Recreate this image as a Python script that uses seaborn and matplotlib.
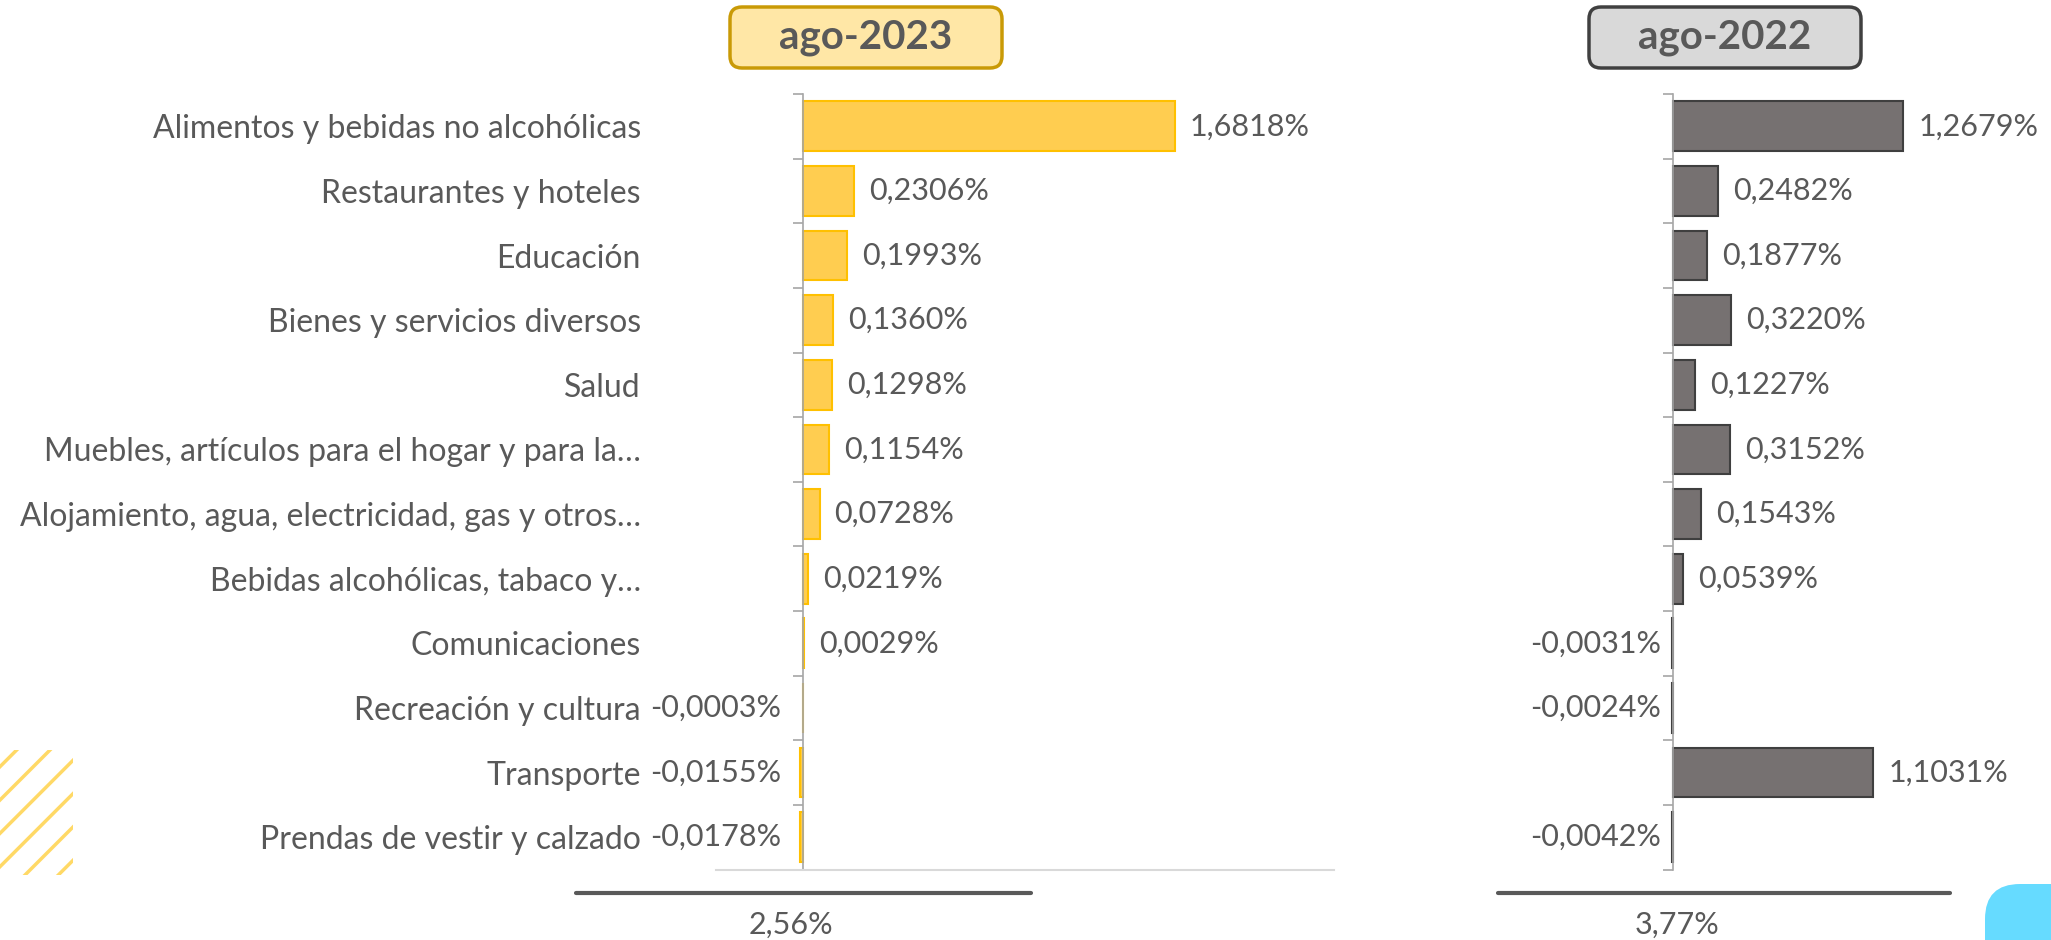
import numpy as np
import matplotlib
matplotlib.use("Agg")
import matplotlib.pyplot as plt
from matplotlib.patches import FancyBboxPatch, Rectangle
from matplotlib.lines import Line2D
import seaborn as sns

sns.set_theme(style="white")
plt.rcParams["font.family"] = ["Lato", "DejaVu Sans"]

# ── data ─────────────────────────────────────────────────────────────────────
categories = [
    "Alimentos y bebidas no alcohólicas",
    "Restaurantes y hoteles",
    "Educación",
    "Bienes y servicios diversos",
    "Salud",
    "Muebles, artículos para el hogar y para la…",
    "Alojamiento, agua, electricidad, gas y otros…",
    "Bebidas alcohólicas, tabaco y…",
    "Comunicaciones",
    "Recreación y cultura",
    "Transporte",
    "Prendas de vestir y calzado",
]
aporte_2023 = [1.6818, 0.2306, 0.1993, 0.1360, 0.1298, 0.1154,
               0.0728, 0.0219, 0.0029, -0.0003, -0.0155, -0.0178]
aporte_2022 = [1.2679, 0.2482, 0.1877, 0.3220, 0.1227, 0.3152,
               0.1543, 0.0539, -0.0031, -0.0024, 1.1031, -0.0042]
periods = ["ago-2023", "ago-2022"]

TXT = "#595959"
FS_CAT = 23
FS_VAL = 22
STYLE = {
    "ago-2023": dict(fill="#FFCD50", edge="#FFC000", box="#FFE7A6", box_edge="#C99A06"),
    "ago-2022": dict(fill="#767171", edge="#3F3F3F", box="#D9D9D9", box_edge="#404040"),
}


def fmt(v, nd=4):
    return f"{v:.{nd}f}".replace(".", ",") + "%"


fig = plt.figure(figsize=(20.51, 9.40), dpi=100)
axL = fig.add_axes([0.349, 0.075, 0.3015, 0.825])
axR = fig.add_axes([0.7334, 0.075, 0.2615, 0.825])
xlims = {"ago-2023": (-0.397, 2.404), "ago-2022": (-0.929, 2.024)}
neg_off = {"ago-2023": -22, "ago-2022": -12}

for ax, period, vals in zip([axL, axR], periods, [aporte_2023, aporte_2022]):
    st = STYLE[period]
    sns.barplot(x=vals, y=categories, ax=ax, orient="h", color=st["fill"],
                edgecolor=st["edge"], linewidth=1.5, width=0.77, saturation=1)
    ax.set_xlim(*xlims[period])
    ax.set_ylim(11.5, -0.5)
    ax.set_xlabel("")
    ax.set_ylabel("")
    ax.set_xticks([])
    ax.spines["left"].set_position(("data", 0))
    ax.spines["left"].set_color("#A6A6A6")
    ax.spines["left"].set_linewidth(1.2)
    for s in ["top", "right"]:
        ax.spines[s].set_visible(False)
    ax.set_yticks(np.arange(-0.5, 12, 1), minor=True)
    ax.tick_params(axis="y", which="minor", left=True, length=7, width=1.2,
                   color="#A6A6A6")
    ax.tick_params(axis="y", which="major", length=0)
    ax.patch.set_alpha(0)

    for i, v in enumerate(vals):
        if v >= 0:
            ax.annotate(fmt(v), (v, i), xytext=(15, 0), textcoords="offset pixels",
                        ha="left", va="center", fontsize=FS_VAL, color=TXT)
        else:
            ax.annotate(fmt(v), (0, i), xytext=(neg_off[period], 0),
                        textcoords="offset pixels", ha="right", va="center",
                        fontsize=FS_VAL, color=TXT)

# category labels only on the left panel
axL.tick_params(axis="y", which="major", pad=117, labelsize=FS_CAT, labelcolor=TXT)
axL.spines["bottom"].set_color("#D9D9D9")
axL.spines["bottom"].set_linewidth(1.5)
axR.set_yticklabels([])
axR.spines["bottom"].set_visible(False)

# ── header boxes ─────────────────────────────────────────────────────────────
for period, x0 in zip(periods, [7.30, 15.89]):
    st = STYLE[period]
    box = FancyBboxPatch((x0, 8.72), 2.72, 0.61,
                         boxstyle="round,pad=0,rounding_size=0.12",
                         transform=fig.dpi_scale_trans, facecolor=st["box"],
                         edgecolor=st["box_edge"], linewidth=2.5)
    fig.patches.append(box)
    fig.text((x0 + 1.36) / 20.51, 9.025 / 9.40, period, ha="center", va="center",
             fontsize=29, fontweight="bold", color=TXT)

# ── totals under each panel ─────────────────────────────────────────────────
for vals, (x0, x1), xc in zip([aporte_2023, aporte_2022],
                              [(0.2808, 0.5027), (0.7304, 0.9508)],
                              [0.3857, 0.8176]):
    fig.add_artist(Line2D([x0, x1], [0.05, 0.05], transform=fig.transFigure,
                          color=TXT, lw=3))
    fig.text(xc, 0.016, fmt(sum(vals), 2), ha="center", va="center",
             fontsize=FS_VAL, color=TXT)

# ── decorations ─────────────────────────────────────────────────────────────
plt.rcParams["hatch.linewidth"] = 2.5
fig.patches.append(Rectangle((0, 0.069), 0.0356, 0.133, transform=fig.transFigure,
                             facecolor="none", edgecolor="#FFD966", linewidth=0,
                             hatch="/"))
fig.patches.append(FancyBboxPatch((19.85, -0.6), 1.5, 1.16,
                                  boxstyle="round,pad=0,rounding_size=0.35",
                                  transform=fig.dpi_scale_trans,
                                  facecolor="#66DBFF", edgecolor="none"))

fig.savefig("out.png", dpi=100)
